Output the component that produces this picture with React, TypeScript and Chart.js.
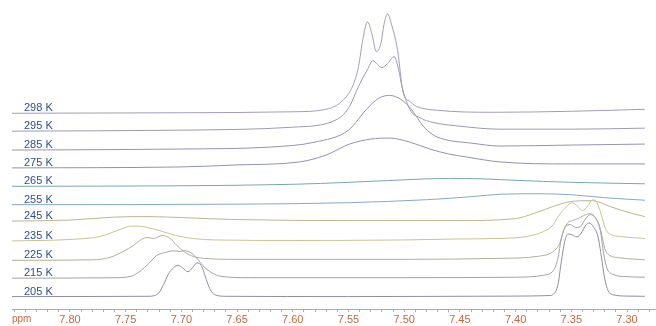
import { useEffect, useRef } from "react";
import { Chart, registerables } from "chart.js";

Chart.register(...registerables);

const temperatures = ["205 K", "215 K", "225 K", "235 K", "245 K", "255 K", "265 K", "275 K", "285 K", "295 K", "298 K"];
// vertical stacking offset of each spectrum (intensity units)
const offsets = [12.5, 31, 49, 68, 88.5, 105, 123.5, 142, 160, 179, 197];
const lineColors = ["#8e8ea2", "#a2a2a4", "#aeb09a", "#c9c48f", "#bab68f", "#86a8c4", "#78a6b4", "#8e92b2", "#9a90b0", "#a098b5", "#a59ab8"];

const ppmRange = [7.274, 7.852];
const tickStep = 0.01;

// [ppm, intensity]
const s205: [number, number][] = [[7.852,0],[7.73,0.3],[7.724,1],[7.72,4],[7.716,12],[7.712,22],[7.707,29],[7.703,31.5],[7.699,29],[7.694,25],[7.69,29],[7.686,34],[7.682,31],[7.679,22],[7.676,12],[7.673,5],[7.669,1.5],[7.66,0.3],[7.55,0],[7.40,0.5],[7.37,1],[7.366,2.5],[7.362,12],[7.359,35],[7.356,55],[7.353,63],[7.349,62],[7.345,60],[7.341,64],[7.337,72],[7.334,74],[7.330,70],[7.326,60],[7.323,40],[7.320,18],[7.317,6],[7.313,2],[7.30,0.5],[7.284,0.3]];
const s215: [number, number][] = [[7.852,0],[7.76,0.5],[7.745,2],[7.737,7],[7.729,15],[7.722,23],[7.714,26],[7.708,27.5],[7.702,27],[7.697,27.5],[7.692,26],[7.686,20],[7.681,13],[7.676,8],[7.672,5],[7.665,2],[7.64,0.5],[7.50,0.5],[7.40,1],[7.375,3],[7.366,8],[7.362,20],[7.359,40],[7.355,52],[7.351,54],[7.346,51],[7.342,52],[7.337,60],[7.333,64],[7.328,60],[7.324,48],[7.321,25],[7.318,10],[7.313,4],[7.30,1.5],[7.284,1]];
const s225: [number, number][] = [[7.852,0],[7.78,0.5],[7.764,3],[7.752,9],[7.743,15],[7.736,21],[7.731,23],[7.725,22],[7.717,25],[7.71,22],[7.704,15],[7.698,9],[7.692,5],[7.68,2],[7.65,1],[7.50,1],[7.414,2],[7.38,4],[7.365,10],[7.36,18],[7.357,30],[7.353,38],[7.349,40],[7.344,42],[7.339,45],[7.333,47],[7.329,44],[7.324,32],[7.320,12],[7.317,6],[7.306,2.5],[7.284,0.5]];
const s235: [number, number][] = [[7.852,0.5],[7.80,2],[7.773,5],[7.755,12],[7.745,15.5],[7.735,15],[7.72,11],[7.705,6],[7.69,3],[7.67,1.5],[7.60,1],[7.50,1.5],[7.45,2.5],[7.414,3],[7.39,5],[7.375,10],[7.366,17],[7.363,23],[7.356,33],[7.349,39],[7.344,35],[7.340,31],[7.335,36],[7.331,42],[7.327,39],[7.324,30],[7.318,10],[7.306,5],[7.284,3]];
const s245: [number, number][] = [[7.852,0],[7.80,1],[7.76,4],[7.73,4.5],[7.70,3.5],[7.65,1.5],[7.55,0.5],[7.45,0.5],[7.40,2.5],[7.384,7.5],[7.36,17],[7.348,20],[7.331,20.5],[7.315,14.5],[7.295,7.5],[7.284,4.5]];
const s255: [number, number][] = [[7.852,0],[7.65,0.5],[7.55,2],[7.48,5],[7.44,8],[7.414,10.5],[7.38,11],[7.35,10],[7.32,7],[7.284,4.5]];
const s265: [number, number][] = [[7.852,0],[7.70,0.5],[7.60,2],[7.55,4],[7.50,6.5],[7.46,8],[7.43,7.5],[7.40,6],[7.35,4],[7.284,2.5]];
const s275: [number, number][] = [[7.852,0],[7.70,1],[7.65,3],[7.594,6],[7.57,13],[7.549,24],[7.53,29],[7.513,30],[7.495,26],[7.477,19],[7.46,14],[7.444,11],[7.414,6],[7.35,4],[7.284,4]];
const s285: [number, number][] = [[7.852,0],[7.70,1],[7.62,3],[7.58,8],[7.55,20],[7.533,42],[7.523,52],[7.513,55],[7.503,51],[7.495,43],[7.488,32],[7.483,24],[7.475,16],[7.465,11],[7.44,7],[7.414,4],[7.35,5],[7.284,6]];
const s295: [number, number][] = [[7.852,0],[7.70,1],[7.60,4],[7.56,12],[7.549,25],[7.541,45],[7.533,62],[7.528,71],[7.524,67],[7.520,64],[7.515,68],[7.509,75],[7.505,62],[7.502,45],[7.495,22],[7.485,13],[7.475,9],[7.45,5],[7.414,2],[7.35,2],[7.284,3]];
const s298: [number, number][] = [[7.852,0],[7.70,0.5],[7.60,1.5],[7.57,4],[7.555,13],[7.546,28],[7.541,47],[7.537,75],[7.533,92],[7.529,80],[7.525,62],[7.521,70],[7.518,90],[7.515,100],[7.511,88],[7.506,64],[7.501,21],[7.495,12],[7.489,7],[7.47,3],[7.42,1],[7.35,2],[7.284,4]];

const spectra = [s205, s215, s225, s235, s245, s255, s265, s275, s285, s295, s298];

const labelColor = "#2d4f8e";
const axisTextColor = "#c46a40";

export default function App() {
  const ref = useRef<HTMLCanvasElement | null>(null);
  useEffect(() => {
    document.body.style.margin = "0";
    const canvas = ref.current;
    if (!canvas) return;
    const labelPlugin = {
      id: "tempLabels",
      afterDatasetsDraw(chart: any) {
        const ctx = chart.ctx;
        const y = chart.scales.y;
        ctx.save();
        ctx.font = "11px 'Liberation Sans', Arial, sans-serif";
        ctx.fillStyle = labelColor;
        ctx.textBaseline = "alphabetic";
        ctx.textAlign = "left";
        temperatures.forEach((t, i) => {
          ctx.fillText(t, 24, y.getPixelForValue(offsets[i]) - 2);
        });
        ctx.font = "10px 'Liberation Sans', Arial, sans-serif";
        ctx.fillStyle = axisTextColor;
        ctx.textBaseline = "middle";
        ctx.fillText("ppm", 12, chart.chartArea.bottom + 10.5);
        ctx.restore();
      },
    };
    const chart = new Chart(canvas, {
      type: "line",
      data: {
        datasets: spectra.map((s, i) => ({
          label: temperatures[i],
          data: s.map(([p, h]) => ({ x: p, y: offsets[i] + h })),
          borderColor: lineColors[i],
          borderWidth: 1,
          pointRadius: 0,
          fill: false,
          cubicInterpolationMode: "monotone" as const,
        })),
      },
      options: {
        responsive: false,
        animation: false,
        events: [],
        layout: { padding: { left: 12, right: 0, top: 0, bottom: -1 } },
        plugins: { legend: { display: false }, tooltip: { enabled: false } },
        scales: {
          x: {
            type: "linear",
            reverse: true,
            min: ppmRange[0],
            max: ppmRange[1],
            border: { display: true, color: "#aaaaaa", width: 1 },
            grid: { drawOnChartArea: false, drawTicks: true, tickLength: 3, tickColor: "#aaaaaa" },
            ticks: {
              stepSize: tickStep,
              autoSkip: false,
              maxRotation: 0,
              includeBounds: false,
              padding: 2,
              color: axisTextColor,
              font: { size: 11, family: "'Liberation Sans', Arial, sans-serif", lineHeight: 1 },
              callback: (v: any) => {
                const n = Math.round(Number(v) * 100);
                return n % 5 === 0 && n <= 781 ? (n / 100).toFixed(2) : "";
              },
            },
          },
          y: { type: "linear", display: false, min: 0, max: 311 },
        },
      },
      plugins: [labelPlugin],
    });
    return () => chart.destroy();
  }, []);
  return (
    <div style={{ width: 656, height: 326 }}>
      <canvas ref={ref} width={656} height={326} style={{ width: 656, height: 326, display: "block" }} />
    </div>
  );
}
